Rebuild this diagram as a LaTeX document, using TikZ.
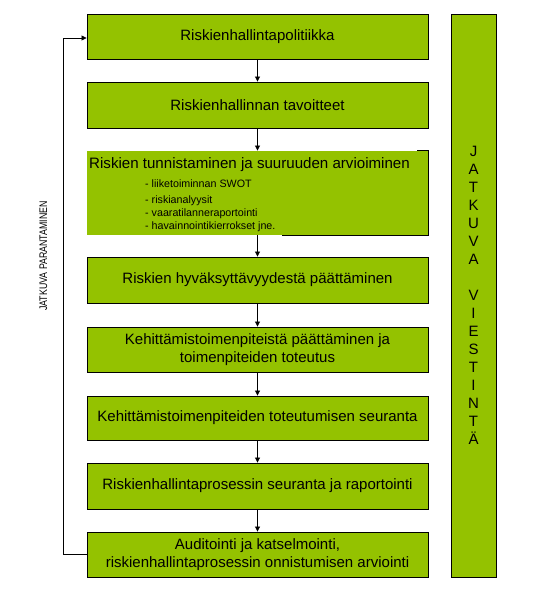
\documentclass[tikz,border=0pt]{standalone}
\usepackage{fontspec}
\setmainfont{Liberation Sans}
\usetikzlibrary{arrows.meta}
\definecolor{boxgreen}{RGB}{148,194,0}
\tikzset{
  stepbox/.style={draw=black, line width=0.9pt, fill=boxgreen, minimum width=341pt, minimum height=45pt, inner sep=2pt, align=center, font=\fontsize{15}{17.5}\selectfont},
  conn/.style={draw=black, line width=0.8pt, -{Triangle[width=5pt,length=5pt]}},
}
\begin{document}
\begin{tikzpicture}[x=1pt,y=-1pt]
\useasboundingbox (0,0) rectangle (557,596);
\node[stepbox] (b1) at (257.5,36.5) {Riskienhallintapolitiikka};
\node[stepbox, minimum height=46pt] (b2) at (257.5,105) {Riskienhallinnan tavoitteet};
\node[stepbox, draw=none, minimum height=84pt] (b3) at (257.5,193) {};
\draw[line width=0.9pt] ([xshift=-11pt]b3.north east) -- (b3.north east) -- (b3.south east) -- ([xshift=-146pt]b3.south east);
\node[anchor=west, font=\fontsize{15.1}{17.5}\selectfont, inner sep=0pt] (b3h) at (89,165) {Riskien tunnistaminen ja suuruuden arvioiminen};
\node[anchor=north west, align=left, font=\fontsize{10.7}{13.2}\selectfont, inner sep=0pt] (b3l) at (145,180) {- liiketoiminnan SWOT\\[2pt]- riskianalyysit\\- vaaratilanneraportointi\\- havainnointikierrokset jne.};
\node[stepbox, minimum height=46pt] (b4) at (257.5,280) {Riskien hyväksyttävyydestä päättäminen};
\node[stepbox] (b5) at (257.5,349.5) {Kehittämistoimenpiteistä päättäminen ja\\toimenpiteiden toteutus};
\node[stepbox, minimum height=44pt] (b6) at (257.5,418) {Kehittämistoimenpiteiden toteutumisen seuranta};
\node[stepbox, minimum height=46pt] (b7) at (257.5,486) {Riskienhallintaprosessin seuranta ja raportointi};
\node[stepbox] (b8) at (257.5,554.5) {Auditointi ja katselmointi,\\riskienhallintaprosessin onnistumisen arviointi};
\node[stepbox, minimum width=45pt, minimum height=563pt, font=\fontsize{15}{18}\selectfont] (vb) at (473.5,295.5) {J\\A\\T\\K\\U\\V\\A\\[18pt]V\\I\\E\\S\\T\\I\\N\\T\\Ä};
\node[rotate=90, font=\fontsize{11}{13}\selectfont, inner sep=0pt] (lt) at (43.5,256) {\scalebox{0.8}[1]{JATKUVA PARANTAMINEN}};
\draw[conn] (b1) -- (b2);
\draw[conn] (b2) -- (b3);
\draw[conn] (b3) -- (b4);
\draw[conn] (b4) -- (b5);
\draw[conn] (b5) -- (b6);
\draw[conn] (b6) -- (b7);
\draw[conn] (b7) -- (b8);
\coordinate (c1) at (63,554.5);
\coordinate (c2) at (63,38);
\draw[conn] (b8.west) -- (c1) -- (c2) -- (b1.west |- c2);
\end{tikzpicture}
\end{document}
